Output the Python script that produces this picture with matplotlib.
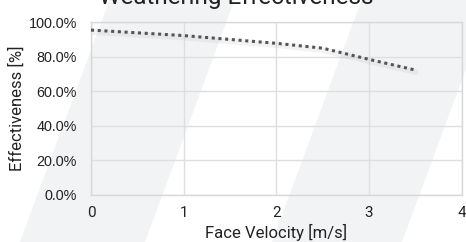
import matplotlib
matplotlib.use("Agg")
import matplotlib.pyplot as plt
from matplotlib.patches import Polygon
import matplotlib.transforms as mtransforms
from matplotlib.ticker import FuncFormatter

# Data
velocity = [0, 1, 2, 2.5, 3, 3.5]
effectiveness = [95.5, 92.3, 87.8, 85.0, 78.5, 72.3]
x_ticks = [0, 1, 2, 3, 4]
y_ticks = [0, 20, 40, 60, 80, 100]
title = "Weathering Effectiveness"
x_label = "Face Velocity [m/s]"
y_label = "Effectiveness [%]"

W, H = 466, 242
fig = plt.figure(figsize=(W / 100, H / 100), dpi=100)
fig.patch.set_facecolor("white")

# background watermark stripes (figure pixel coords -> fraction)
def stripe(x_bottom, width, slope=0.37, color="#f2f3f5"):
    yb, yt = H, 0
    xb_l = x_bottom
    xt_l = x_bottom + slope * (yb - yt)
    pts = [(xb_l, yb), (xb_l + width, yb), (xt_l + width, yt), (xt_l, yt)]
    pts = [(px / W, 1 - py / H) for px, py in pts]
    fig.patches.append(Polygon(pts, closed=True, transform=fig.transFigure,
                               facecolor=color, edgecolor="none", zorder=-10))

stripe(20, 125)
stripe(272, 130)

ax = fig.add_axes([91 / W, 1 - 194.7 / H, (461.7 - 91) / W, (194.7 - 22.3) / H])
ax.set_facecolor("none")

# shadow
shadow = mtransforms.offset_copy(ax.transData, fig=fig, x=0, y=-2.0, units="dots")
ax.plot(velocity, effectiveness, color="#888888", lw=4, alpha=0.10,
        solid_capstyle="round", transform=shadow, zorder=2)
ax.plot(velocity, effectiveness, color="#555555", lw=2.2, linestyle=(0, (1, 1.2)),
        dash_capstyle="butt", zorder=3)

ax.set_xlim(0, 4)
ax.set_ylim(0, 100)
ax.set_xticks(x_ticks)
ax.set_yticks(y_ticks)
ax.yaxis.set_major_formatter(FuncFormatter(lambda v, p: f"{v:.1f}%"))
ax.grid(True, color="#dfdfdf", lw=1)
ax.set_axisbelow(True)
for s in ax.spines.values():
    s.set_color("#d8d8d8")
    s.set_linewidth(1)
ax.tick_params(length=0, pad=10, labelsize=10.4, colors="#222222")
for lbl in ax.get_yticklabels():
    lbl.set_fontfamily("Liberation Sans")
for lbl in ax.get_xticklabels():
    lbl.set_fontfamily("Roboto")
    lbl.set_fontsize(11)
ax.tick_params(axis="x", pad=8)

ax.set_xlabel(x_label, fontsize=12, family="Roboto", color="#222222", labelpad=3)
ax.set_ylabel(y_label, fontsize=12, family="Roboto", color="#222222", labelpad=3)

fig.text(236 / W, 1 - 4 / H, title, ha="center", va="baseline", fontsize=17.5,
         family="Roboto", color="#222222")

fig.savefig("out.png", dpi=100)
